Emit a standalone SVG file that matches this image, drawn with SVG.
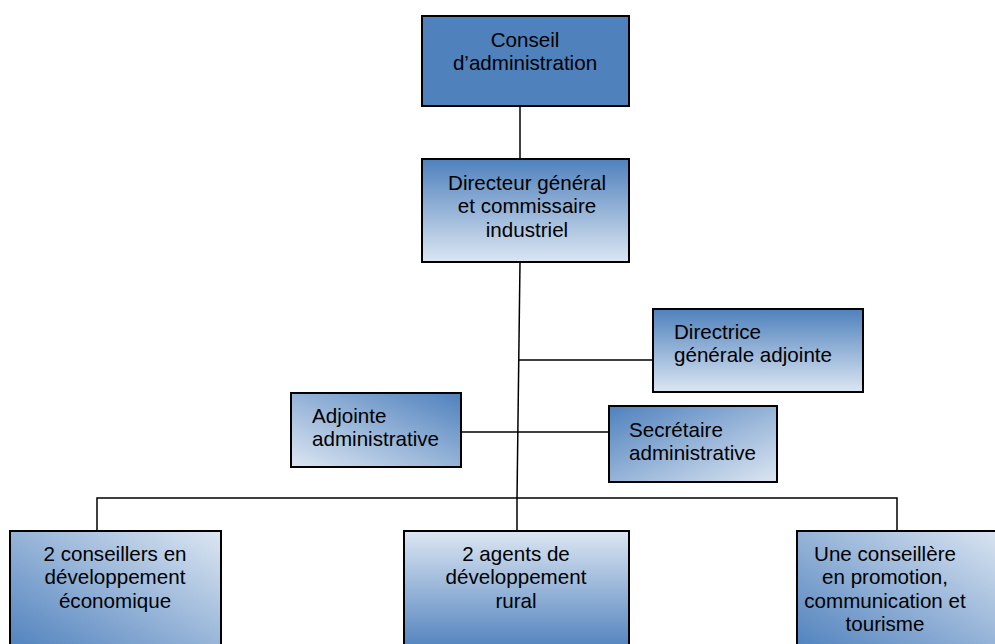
<svg xmlns="http://www.w3.org/2000/svg" width="995" height="644" viewBox="0 0 995 644">
<defs>
<linearGradient id="gv" x1="0" y1="0" x2="0" y2="1"><stop offset="0" stop-color="#4f81bd"/><stop offset="1" stop-color="#dce6f2"/></linearGradient>
<linearGradient id="gvr" x1="0" y1="0" x2="0" y2="1"><stop offset="0" stop-color="#dce6f2"/><stop offset="1" stop-color="#4f81bd"/></linearGradient>
<linearGradient id="gtr" x1="1" y1="0" x2="0" y2="1"><stop offset="0" stop-color="#4f81bd"/><stop offset="1" stop-color="#dce6f2"/></linearGradient>
<linearGradient id="gtl" x1="0" y1="0" x2="1" y2="1"><stop offset="0" stop-color="#4f81bd"/><stop offset="1" stop-color="#dce6f2"/></linearGradient>
<linearGradient id="gbl" x1="1" y1="0" x2="0" y2="1"><stop offset="0" stop-color="#dce6f2"/><stop offset="1" stop-color="#4f81bd"/></linearGradient>
</defs>
<style>
.box{stroke:#000;stroke-width:2}
text{font-family:"Liberation Sans",Arial,sans-serif;font-size:20.6px;fill:#000}
.c{text-anchor:middle}
.ln{stroke:#000;stroke-width:1.5;fill:none}
</style>
<rect width="995" height="644" fill="#fff"/>
<g id="connectors">
<line class="ln" x1="520" y1="106" x2="520" y2="159"/>
<line class="ln" x1="520" y1="262" x2="517" y2="498"/>
<line class="ln" x1="518" y1="360" x2="653" y2="360"/>
<line class="ln" x1="461" y1="432" x2="609" y2="432"/>
<polyline class="ln" points="97,531 97,498 897,498 897,531"/>
<line class="ln" x1="517" y1="498" x2="517" y2="531"/>
</g>
<g id="conseil">
<rect class="box" x="422" y="16" width="207" height="90" fill="#4f81bd"/>
<text class="c" x="525" y="47">Conseil</text>
<text class="c" x="525" y="70">d’administration</text>
</g>
<g id="directeur">
<rect class="box" x="422" y="159" width="207" height="103" fill="url(#gv)"/>
<text class="c" x="527" y="190">Directeur général</text>
<text class="c" x="527" y="213">et commissaire</text>
<text class="c" x="527" y="237">industriel</text>
</g>
<g id="directrice">
<rect class="box" x="653" y="309" width="210" height="83" fill="url(#gv)"/>
<text x="674" y="339">Directrice</text>
<text x="674" y="362">générale adjointe</text>
</g>
<g id="adjointe">
<rect class="box" x="291" y="393" width="170" height="74" fill="url(#gtr)"/>
<text x="312" y="423">Adjointe</text>
<text x="312" y="446">administrative</text>
</g>
<g id="secretaire">
<rect class="box" x="609" y="406" width="168" height="76" fill="url(#gtl)"/>
<text x="629" y="437">Secrétaire</text>
<text x="629" y="460">administrative</text>
</g>
<g id="conseillers">
<rect class="box" x="10" y="531" width="211" height="120" fill="url(#gbl)"/>
<text class="c" x="115" y="561">2 conseillers en</text>
<text class="c" x="115" y="584">développement</text>
<text class="c" x="115" y="608">économique</text>
</g>
<g id="agents">
<rect class="box" x="404" y="531" width="225" height="120" fill="url(#gvr)"/>
<text class="c" x="516" y="561">2 agents de</text>
<text class="c" x="516" y="584">développement</text>
<text class="c" x="516" y="608">rural</text>
</g>
<g id="conseillere">
<rect class="box" x="797" y="531" width="210" height="120" fill="url(#gbl)"/>
<text class="c" x="885" y="561">Une conseillère</text>
<text class="c" x="885" y="584">en promotion,</text>
<text class="c" x="885" y="608">communication et</text>
<text class="c" x="885" y="631">tourisme</text>
</g>
</svg>
